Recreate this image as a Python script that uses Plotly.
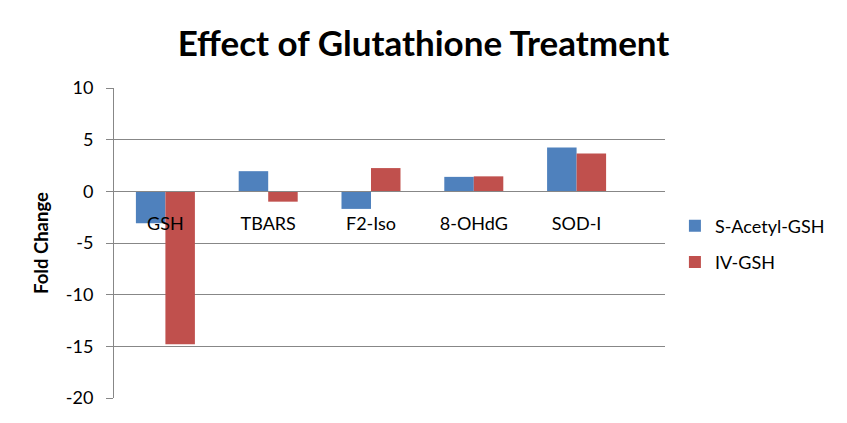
import plotly.graph_objects as go

# datos
categories = ["GSH", "TBARS", "F2-Iso", "8-OHdG", "SOD-I"]
s_acetyl_gsh = [-3.1, 1.95, -1.7, 1.4, 4.25]
iv_gsh = [-14.8, -1.0, 2.25, 1.45, 3.65]
y_ticks = [10, 5, 0, -5, -10, -15, -20]
y_tick_text = ["10", "5", "0", "-5", "-10", "-15", "-20"]

FONT = "Lato"
GRID = "#878787"

fig = go.Figure()

fig.add_trace(
    go.Bar(
        x=categories,
        y=s_acetyl_gsh,
        name="S-Acetyl-GSH",
        legendgroup="a",
        marker=dict(color="#4F81BD", line=dict(width=0)),
    )
)
fig.add_trace(
    go.Bar(
        x=categories,
        y=iv_gsh,
        name="IV-GSH",
        legendgroup="b",
        marker=dict(color="#C0504D", line=dict(width=0)),
    )
)

fig.update_layout(
    width=847,
    height=423,
    margin=dict(l=114, r=182, t=88, b=25),
    paper_bgcolor="white",
    plot_bgcolor="white",
    barmode="group",
    bargap=0.426,
    bargroupgap=0,
    font=dict(family=FONT, size=16, color="#000000"),
    title=dict(
        text="<b>Effect of Glutathione Treatment</b>",
        x=0.5,
        xanchor="center",
        y=0.896,
        yanchor="middle",
        font=dict(family=FONT, size=35, color="#000000"),
    ),
    legend=dict(
        x=1.018,
        y=0.497,
        xanchor="left",
        yanchor="middle",
        font=dict(family=FONT, size=18),
        itemwidth=30,
        tracegroupgap=10,
    ),
)

# eje x cruzando en cero (2/3 de la altura del area de trazado)
fig.update_xaxes(
    anchor="free",
    position=20 / 30,
    range=[-0.5, 4.86],
    showline=True,
    linecolor=GRID,
    linewidth=1,
    ticks="",
    showgrid=False,
    ticklabelstandoff=16,
    tickfont=dict(family=FONT, size=18),
)

fig.update_yaxes(
    range=[-20, 10],
    tickvals=y_ticks,
    ticktext=y_tick_text,
    showgrid=True,
    gridcolor=GRID,
    gridwidth=1,
    zeroline=False,
    showline=True,
    linecolor=GRID,
    ticks="outside",
    ticklen=7,
    tickcolor=GRID,
    ticklabelstandoff=9,
    tickfont=dict(family=FONT, size=18),
    title=dict(text="<b>Fold Change</b>", font=dict(family=FONT, size=18.5), standoff=12),
)

# sin margen en el body para que la figura ocupe la ventana entera
fig.write_html(
    "out.html",
    config={"displayModeBar": False},
    post_script="document.body.style.margin='0';",
)
